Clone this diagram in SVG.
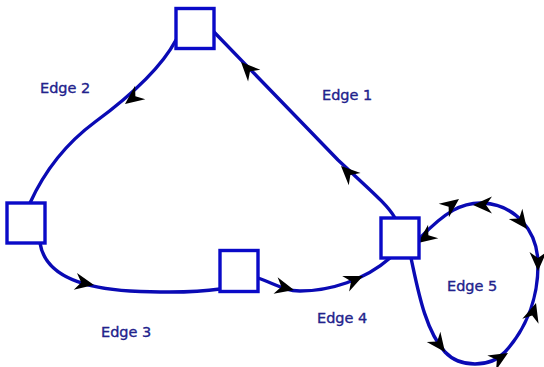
<svg xmlns="http://www.w3.org/2000/svg" xmlns:xlink="http://www.w3.org/1999/xlink" width="544" height="367" viewBox="0 0 544 367">
  <style>
    .node { fill: #ffffff; stroke: #0a0ac8; stroke-width: 3.4; }
    .edge { fill: none; stroke: #0a0ab4; stroke-width: 3.4; stroke-linecap: round; }
    .label { font-family: "DejaVu Sans", "Liberation Sans", sans-serif; font-size: 14.5px; fill: #22228c; stroke: #22228c; stroke-width: 0.35; }
    .head { fill: #000000; }
  </style>
  <defs>
    <!-- arrowhead, tip at origin, pointing along +x -->
    <path id="ah" class="head" d="M 0,0 L -19,-8.5 L -13,0 L -19,8.5 Z"/>
  </defs>
  <rect width="544" height="367" fill="#ffffff"/>

  <g id="connectors">
    <g id="edge1">
      <path class="edge" d="M 214,32 L 338,160 C 370,190 388,205 395,218"/>
      <use xlink:href="#ah" transform="translate(241,62) rotate(-134)"/>
      <use xlink:href="#ah" transform="translate(341,166) rotate(-136)"/>
    </g>
    <g id="edge2">
      <path class="edge" d="M 176,40 C 160,70 125,100 95,122 C 68,142 45,170 30,203"/>
      <use xlink:href="#ah" transform="translate(125,104) rotate(143)"/>
    </g>
    <g id="edge3">
      <path class="edge" d="M 40,243 C 45,275 80,288 130,291 C 170,293 200,292 220,289"/>
      <use xlink:href="#ah" transform="translate(94,285) rotate(11)"/>
    </g>
    <g id="edge4">
      <path class="edge" d="M 258,278 C 275,284 285,291 300,291 C 330,291 365,280 390,258"/>
      <use xlink:href="#ah" transform="translate(294,290) rotate(14)"/>
      <use xlink:href="#ah" transform="translate(363,276) rotate(-24)"/>
    </g>
    <g id="edge5">
      <path class="edge" d="M 411,258 C 418,290 425,330 445,352 C 460,368 490,368 505,352 C 525,330 538,300 538,265 C 538,230 515,205 483,203 C 462,202 445,212 420,238"/>
      <use xlink:href="#ah" transform="translate(445,352) rotate(53)"/>
      <use xlink:href="#ah" transform="translate(508,353) rotate(-31)"/>
      <use xlink:href="#ah" transform="translate(536,303) rotate(-73)"/>
      <use xlink:href="#ah" transform="translate(538,271) rotate(90)"/>
      <use xlink:href="#ah" transform="translate(527,229) rotate(53)"/>
      <use xlink:href="#ah" transform="translate(473,205) rotate(180)"/>
      <use xlink:href="#ah" transform="translate(459,199) rotate(-37)"/>
      <use xlink:href="#ah" transform="translate(418,243) rotate(143)"/>
    </g>
  </g>

  <g id="nodeA"><rect class="node" x="176" y="8.5" width="38" height="40"/></g>
  <g id="nodeB"><rect class="node" x="7" y="203" width="38" height="40"/></g>
  <g id="nodeC"><rect class="node" x="220" y="250.5" width="38" height="41"/></g>
  <g id="nodeD"><rect class="node" x="381" y="218" width="38" height="40"/></g>

  <g id="labels">
    <text class="label" x="322" y="100">Edge 1</text>
    <text class="label" x="40" y="93">Edge 2</text>
    <text class="label" x="101" y="337">Edge 3</text>
    <text class="label" x="317" y="323">Edge 4</text>
    <text class="label" x="447" y="291">Edge 5</text>
  </g>
</svg>
